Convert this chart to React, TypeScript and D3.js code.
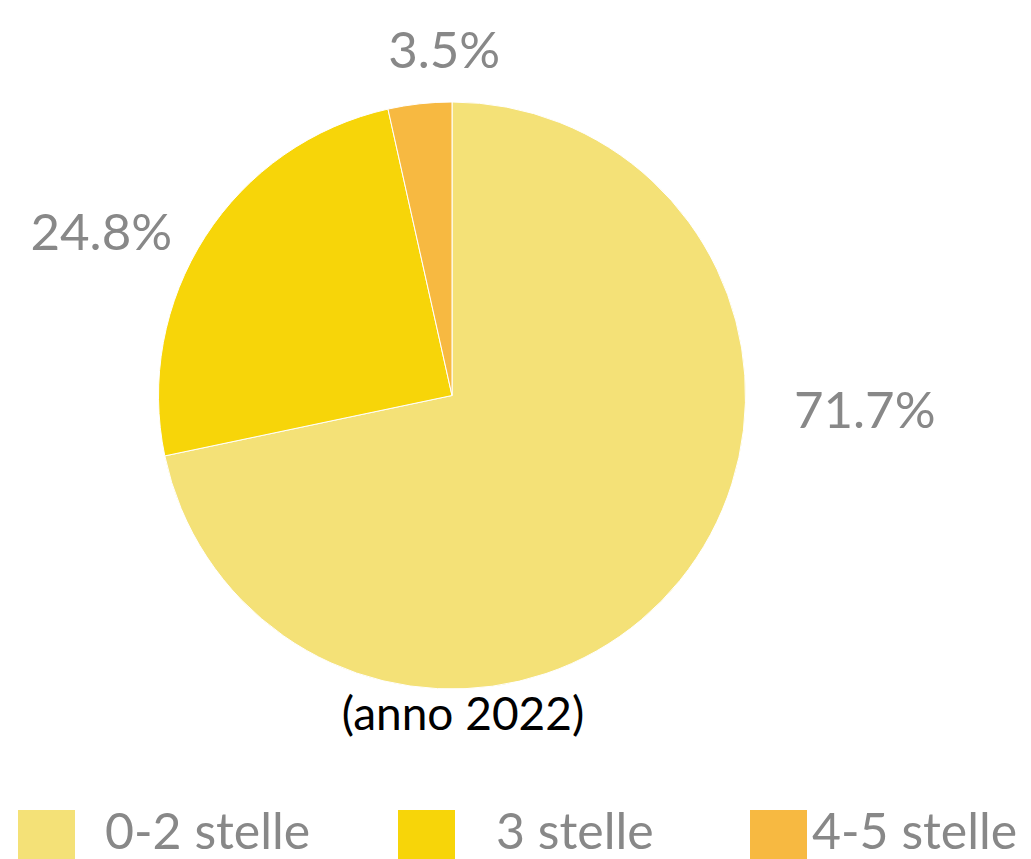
import { arc as d3Arc, pie as d3Pie, PieArcDatum } from "d3";

const categories = ["0-2 stelle", "3 stelle", "4-5 stelle"];
const shares = [71.7, 24.8, 3.5];
const colors = ["#F4E177", "#F7D509", "#F7B941"];
const caption = "(anno 2022)";

// where each percentage label sits: angle (deg, clockwise from top) and distance from centre
const labelPlacement = [
  { angle: 92, dist: 413 },
  { angle: 295, dist: 387 },
  { angle: -1.3, dist: 346 },
];
// legend swatch / text x positions
const legendSwatchX = [18, 398, 750];
const legendTextX = [105, 496, 812];

type Slice = { name: string; value: number; color: string };

export default function App() {
  const width = 1031;
  const height = 859;
  const cx = 452;
  const cy = 395.5;
  const radius = 293.5;
  const font = "Lato, 'Open Sans', sans-serif";

  const data: Slice[] = categories.map((name, i) => ({
    name,
    value: shares[i],
    color: colors[i],
  }));

  const arcs = d3Pie<Slice>()
    .value((d) => d.value)
    .sort(null)(data);

  const arcGen = d3Arc<PieArcDatum<Slice>>().innerRadius(0).outerRadius(radius);

  return (
    <svg
      width={width}
      height={height}
      style={{ position: "absolute", left: 0, top: 0, background: "#fff" }}
    >
      <g transform={`translate(${cx},${cy})`}>
        {arcs.map((a, i) => (
          <path
            key={`slice-${i}`}
            d={arcGen(a) ?? ""}
            fill={a.data.color}
            stroke="#fff"
            strokeWidth={1}
          />
        ))}
        {arcs.map((a, i) => {
          const p = labelPlacement[i];
          const rad = (p.angle * Math.PI) / 180;
          return (
            <text
              key={`label-${i}`}
              x={Math.sin(rad) * p.dist}
              y={-Math.cos(rad) * p.dist}
              dy="0.36em"
              textAnchor="middle"
              fontFamily={font}
              fontSize={51}
              fill="#888888"
            >
              {`${a.data.value.toFixed(1)}%`}
            </text>
          );
        })}
        <text
          x={11}
          y={radius + 24}
          dy="0.36em"
          textAnchor="middle"
          fontFamily={font}
          fontSize={46}
          fill="#000"
        >
          {caption}
        </text>
      </g>

      {data.map((d, i) => (
        <g key={`legend-${i}`}>
          <rect x={legendSwatchX[i]} y={810} width={57} height={52} fill={d.color} />
          <text
            x={legendTextX[i]}
            y={849}
            fontFamily={font}
            fontSize={50}
            fill="#888888"
          >
            {d.name}
          </text>
        </g>
      ))}
    </svg>
  );
}
